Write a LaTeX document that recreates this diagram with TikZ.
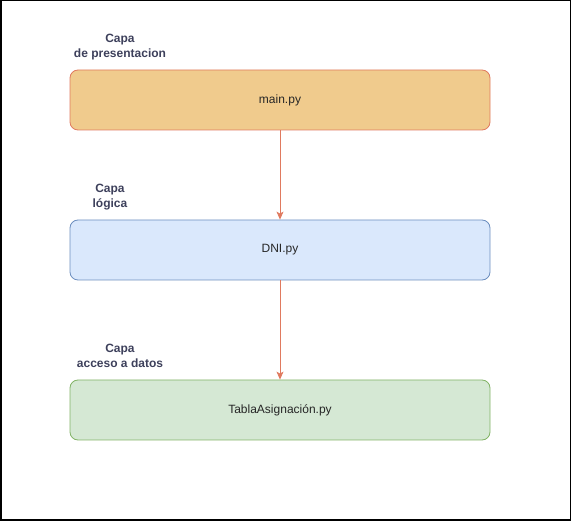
\documentclass[tikz,border=0pt]{standalone}
\usepackage{fontspec}
\setmainfont{Liberation Sans}
\usetikzlibrary{arrows.meta}
\definecolor{orfill}{HTML}{F0CB8D}
\definecolor{orline}{HTML}{E07A5F}
\definecolor{blfill}{HTML}{DAE8FC}
\definecolor{blline}{HTML}{6C8EBF}
\definecolor{grfill}{HTML}{D5E8D4}
\definecolor{grline}{HTML}{82B366}
\definecolor{lbl}{HTML}{3D405B}
\tikzset{
  layerbox/.style={rounded corners=8pt, line width=0.8pt, minimum width=420pt, minimum height=60pt, inner sep=0pt, font=\fontsize{12pt}{14pt}\selectfont, text=black!85},
  layerlabel/.style={align=center, font=\bfseries\fontsize{12pt}{14.5pt}\selectfont, text=lbl, inner sep=0pt},
  flow/.style={draw=orline, line width=0.8pt, -{Stealth[width=7pt,length=8pt,inset=2pt]}}
}
\begin{document}
\begin{tikzpicture}[x=1pt,y=-1pt]
\useasboundingbox (0,0) rectangle (571,521);
\draw[line width=1.5pt] (0.75,0.75) rectangle (570.25,520.25);
\node[layerbox, fill=orfill, draw=orline] (main) at (280,100) {main.py};
\node[layerbox, fill=blfill, draw=blline] (dni) at (280,250) {DNI.py};
\node[layerbox, fill=grfill, draw=grline] (tabla) at (280,410) {TablaAsignación.py};
\node[layerlabel] (l1) at (120,47) {Capa\\de presentacion};
\node[layerlabel] (l2) at (110,197) {Capa\\lógica};
\node[layerlabel] (l3) at (120,356) {Capa\\acceso a datos};
\draw[flow] (main) -- (dni);
\draw[flow] (dni) -- (tabla);
\end{tikzpicture}
\end{document}
